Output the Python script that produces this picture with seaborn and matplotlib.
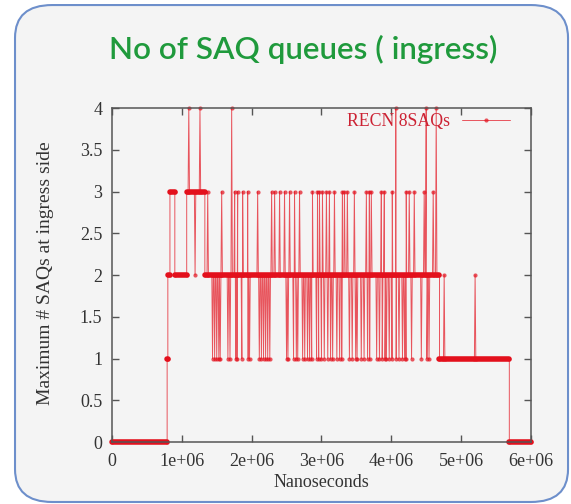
import numpy as np
import pandas as pd
import matplotlib
matplotlib.use("Agg")
import matplotlib.pyplot as plt
import seaborn as sns
from matplotlib.patches import FancyBboxPatch

# ---------------- data ----------------
title = "No of SAQ queues ( ingress)"
x_label = "Nanoseconds"
y_label = "Maximum # SAQs at ingress side"
series_name = "RECN 8SAQs"

x_ticks = [0, 1e6, 2e6, 3e6, 4e6, 5e6, 6e6]
x_tick_labels = ["0", "1e+06", "2e+06", "3e+06", "4e+06", "5e+06", "6e+06"]
y_ticks = [0, 0.5, 1, 1.5, 2, 2.5, 3, 3.5, 4]
y_tick_labels = ["0", "0.5", "1", "1.5", "2", "2.5", "3", "3.5", "4"]

# held levels: start time (ns) and value held until the next start
level_start_ns = [0, 790000, 800000, 830000, 900000, 1070000, 1330000, 4690000, 5690000]
level_value = [0, 1, 2, 3, 2, 3, 2, 1, 0]
end_ns = 6000000

# single-sample excursions away from the held level
spike3_ns = [1371000, 1571000, 1757000, 1800000, 1871000, 1943000, 2086000, 2286000,
             2329000, 2400000, 2471000, 2543000, 2614000, 2686000, 2871000, 2943000,
             2971000, 3014000, 3071000, 3114000, 3186000, 3300000, 3329000, 3371000,
             3471000, 3643000, 3686000, 3714000, 3857000, 3900000, 4014000, 4214000,
             4257000, 4329000, 4471000, 4600000]
spike4_ns = [1100000, 1260000, 1714000, 4064000, 4500000, 4643000]
dip2_ns = [1190000, 4757000, 5200000]
dip1_ns = [1440000, 1470000, 1500000, 1530000, 1550000, 1660000, 1690000, 1770000,
           1790000, 1860000, 1950000, 1970000, 2110000, 2140000, 2170000, 2200000,
           2230000, 2260000, 2500000, 2520000, 2600000, 2640000, 2660000, 2730000,
           2760000, 2800000, 2830000, 2860000, 2930000, 2960000, 3000000, 3040000,
           3090000, 3130000, 3160000, 3220000, 3260000, 3290000, 3400000, 3440000,
           3490000, 3510000, 3570000, 3610000, 3660000, 3690000, 3790000, 3830000,
           3870000, 3910000, 3930000, 3970000, 4010000, 4070000, 4110000, 4160000,
           4190000, 4210000, 4290000, 4430000, 4510000, 4540000]
sample_ns = 10000

# ---------------- build tables ----------------
seg_ends = level_start_ns[1:] + [end_ns]


def level_at(t):
    idx = np.searchsorted(level_start_ns, t, side="right") - 1
    return level_value[idx]


rows = []
band_rows = []
for i, (s, e, v) in enumerate(zip(level_start_ns, seg_ends, level_value)):
    rows.append((s, v))
    rows.append((e, v))
    band_rows.append((s, v, i))
    band_rows.append((e, v, i))

for times, peak in [(spike3_ns, 3), (spike4_ns, 4), (dip2_ns, 2), (dip1_ns, 1)]:
    for t in times:
        b = level_at(t)
        rows.append((t - sample_ns, b))
        rows.append((t, peak))
        rows.append((t + sample_ns, b))

trace = pd.DataFrame(rows, columns=["t", "v"])
trace["k"] = np.arange(len(trace))
trace = trace.sort_values(["t", "k"], kind="stable").reset_index(drop=True)
bands = pd.DataFrame(band_rows, columns=["t", "v", "seg"])

# ---------------- figure ----------------
sns.set_style("ticks")
plt.rcParams["font.family"] = ["Liberation Serif", "DejaVu Serif"]

bg = "#f4f4f4"
red = "#e3101c"

fig = plt.figure(figsize=(5.71, 5.04), dpi=100)
fig.patch.set_facecolor("white")
frame = FancyBboxPatch((0.0263, 0.004), 0.9685, 0.986,
                       boxstyle="round,pad=0,rounding_size=0.065",
                       transform=fig.transFigure, facecolor=bg,
                       edgecolor="#6d8fcb", lw=1.5, zorder=-10)
fig.patches.append(frame)

ax = fig.add_axes([0.1961, 0.123, 0.7338, 0.6627])
ax.set_zorder(5)
ax.set_facecolor(bg)

sns.lineplot(data=trace, x="t", y="v", ax=ax, estimator=None, sort=False,
             color=red, lw=0.7, alpha=0.7, marker="o", markersize=3,
             markeredgewidth=0, label=series_name)
sns.lineplot(data=bands, x="t", y="v", units="seg", estimator=None, sort=False,
             ax=ax, color=red, linewidth=4.0, legend=False)
for ln in ax.lines:
    ln.set_clip_on(False)

ax.set_xlim(0, 6e6)
ax.set_ylim(0, 4)
ax.set_xticks(x_ticks)
ax.set_xticklabels(x_tick_labels)
ax.set_yticks(y_ticks)
ax.set_yticklabels(y_tick_labels)
ax.tick_params(direction="in", length=5, width=1, top=True, right=True,
               colors="#555555", labelcolor="#333333", labelsize=13)
ax.tick_params(axis="x", pad=8)
ax.tick_params(axis="y", pad=7)
for sp in ax.spines.values():
    sp.set_visible(True)
    sp.set_color("#555555")
    sp.set_linewidth(1.1)

ax.set_xlabel(x_label, fontsize=13, color="#333333")
ax.set_ylabel(y_label, fontsize=14, color="#333333")
ax.xaxis.set_label_coords(0.5, -0.095)
ax.yaxis.set_label_coords(-0.138, 0.504)

h, l = ax.get_legend_handles_labels()
leg = ax.legend(h, l, loc="upper right", bbox_to_anchor=(0.95, 0.985),
                frameon=False, markerfirst=False, handlelength=2.7,
                handletextpad=0.68, borderaxespad=0, borderpad=0,
                prop={"size": 12.8})
for txt in leg.get_texts():
    txt.set_color("#cc2233")

fig.text(0.531, 0.901, title, ha="center", va="center", color="#1f9a3c",
         fontsize=22.6, fontweight="semibold", family=["Lato", "DejaVu Sans"])

fig.savefig("out.png", dpi=100, facecolor="white")
